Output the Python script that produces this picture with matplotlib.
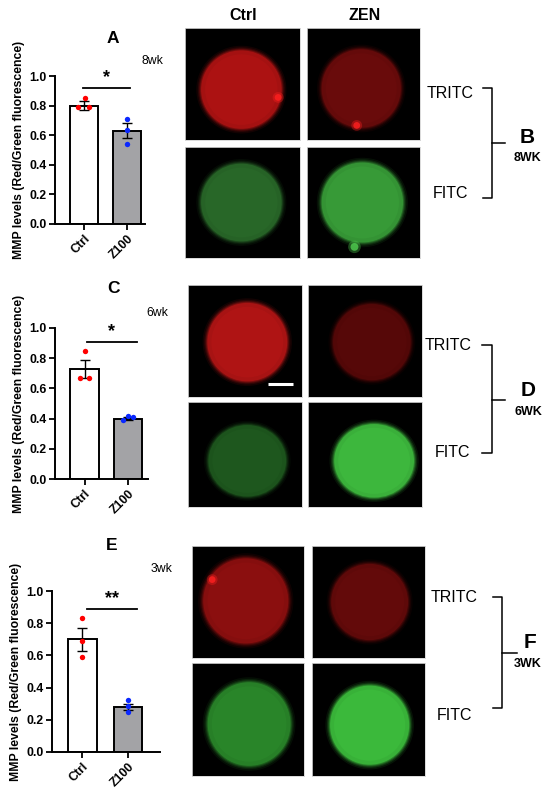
import matplotlib
matplotlib.use("Agg")
import matplotlib.pyplot as plt
from matplotlib.patches import Circle

plt.rcParams['font.family'] = ['Liberation Sans', 'DejaVu Sans']

W, H = 550, 797

# bar chart data (A: 8wk, C: 6wk, E: 3wk)
groups = ["Ctrl", "Z100"]
weeks = ["8wk", "6wk", "3wk"]
panel_letters = ["A", "C", "E"]
means = [[0.80, 0.63], [0.73, 0.40], [0.70, 0.28]]
sems = [[0.03, 0.05], [0.06, 0.01], [0.07, 0.02]]
ctrl_points = [[0.79, 0.85, 0.79], [0.85, 0.67, 0.67], [0.83, 0.69, 0.59]]
z100_points = [[0.71, 0.635, 0.54], [0.39, 0.42, 0.41], [0.32, 0.285, 0.25]]
stars = ["*", "*", "**"]

# micrograph labels / brightness
img_cols = ["Ctrl", "ZEN"]
channels = ["TRITC", "FITC"]
img_letters = ["B", "D", "F"]
img_weeks = ["8WK", "6WK", "3WK"]
red_colors = [["#b41414", "#6e0c0c"], ["#b81616", "#5a0909"], ["#921010", "#680b0b"]]
green_colors = [["#2a6c2a", "#3aa23a"], ["#205c20", "#40c040"], ["#2c8c2c", "#3ec23e"]]

fig = plt.figure(figsize=(W / 100, H / 100), dpi=100)


def px_axes(x0, y0, x1, y1, **kw):
    return fig.add_axes([x0 / W, 1 - y1 / H, (x1 - x0) / W, (y1 - y0) / H], **kw)


# ---- bar charts ----
bar_boxes = [(55, 76, 145, 224), (55, 328, 148, 479), (52, 591, 160, 752)]
bar_xlims = [(-0.67, 1.42), (-0.68, 1.46), (-0.66, 1.7)]
bar_width = [0.65, 0.65, 0.63]
ctrl_jit = [[-0.14, 0.02, 0.12], [0.0, -0.1, 0.1], [0.0, 0.0, 0.0]]
z100_jit = [[0.0, 0.0, 0.0], [-0.12, 0.0, 0.12], [0.0, 0.0, 0.0]]
sig_span = [(-0.02, 1.07), (0.06, 1.2), (0.1, 1.2)]
sig_y = [0.92, 0.91, 0.89]

for i in range(3):
    ax = px_axes(*bar_boxes[i])
    x = [0, 1]
    ax.bar(x, means[i], width=bar_width[i], color=["white", "#a3a3a6"],
           edgecolor="black", linewidth=1.4, zorder=2)
    ax.errorbar(x, means[i], yerr=sems[i], fmt="none", ecolor="black",
                elinewidth=1.0, capsize=3.3, capthick=1.0, zorder=3)
    ax.scatter([0 + j for j in ctrl_jit[i]], ctrl_points[i], s=15, color="#ff0000",
               zorder=4, linewidths=0)
    ax.scatter([1 + j for j in z100_jit[i]], z100_points[i], s=15, color="#0a28ff",
               zorder=4, linewidths=0)
    ax.plot(sig_span[i], [sig_y[i], sig_y[i]], color="black", lw=1.3, clip_on=False)
    ax.text(sum(sig_span[i]) / 2, sig_y[i] + 0.012, stars[i], ha="center", va="bottom",
            fontsize=13, fontweight="bold")
    ax.set_xlim(*bar_xlims[i])
    ax.set_ylim(0, 1.0)
    ax.set_yticks([0, 0.2, 0.4, 0.6, 0.8, 1.0])
    ax.set_yticklabels(["0.0", "0.2", "0.4", "0.6", "0.8", "1.0"], fontsize=8.8,
                       fontweight="bold")
    ax.set_xticks(x)
    ax.set_xticklabels(groups, rotation=45, ha="right", rotation_mode="anchor",
                       fontsize=8.8, fontweight="bold")
    ax.tick_params(width=1.3, length=4, pad=2)
    for s in ["top", "right"]:
        ax.spines[s].set_visible(False)
    for s in ["left", "bottom"]:
        ax.spines[s].set_linewidth(1.4)
    ax.set_ylabel("MMP levels (Red/Green fluorescence)", fontsize=8.8, fontweight="bold",
                  labelpad=3)

# ---- micrographs ----
img_boxes = [
    [[(185, 28, 300, 140), (307, 28, 420, 140)], [(185, 147, 300, 258), (307, 147, 420, 258)]],
    [[(188, 285, 302, 397), (308, 285, 422, 397)], [(188, 402, 302, 507), (308, 402, 422, 507)]],
    [[(192, 546, 304, 658), (312, 546, 425, 658)], [(192, 663, 304, 776), (312, 663, 425, 776)]],
]
cells = [
    [[(0.49, 0.45, 0.35), (0.48, 0.46, 0.35)], [(0.49, 0.50, 0.35), (0.49, 0.50, 0.36)]],
    [[(0.52, 0.49, 0.35), (0.56, 0.49, 0.34)], [(0.52, 0.44, 0.34), (0.58, 0.44, 0.35)]],
    [[(0.48, 0.51, 0.38), (0.51, 0.50, 0.34)], [(0.51, 0.46, 0.37), (0.51, 0.45, 0.35)]],
]
# small bright spots (row, channel, col, x, y, radius)
spots = [(0, 0, 0, 0.81, 0.38, 0.03), (0, 0, 1, 0.44, 0.13, 0.03),
         (0, 1, 1, 0.42, 0.10, 0.035), (2, 0, 0, 0.18, 0.70, 0.03)]

halo = [(1.12, 0.10), (1.08, 0.16), (1.05, 0.25), (1.025, 0.4), (1.0, 0.75), (0.9, 0.5)]
for r in range(3):
    for ch in range(2):
        for c in range(2):
            ax = px_axes(*img_boxes[r][ch][c])
            ax.set_facecolor("black")
            ax.set_xlim(0, 1)
            ax.set_ylim(0, 1)
            ax.set_xticks([])
            ax.set_yticks([])
            for s in ax.spines.values():
                s.set_edgecolor("#d5d5d5")
                s.set_linewidth(0.6)
            cx, cy, rad = cells[r][ch][c]
            col = red_colors[r][c] if ch == 0 else green_colors[r][c]
            for scale, a in halo:
                ax.add_patch(Circle((cx, cy), rad * scale, color=col, alpha=a, lw=0))
            bright = "#ff2020" if ch == 0 else "#50d050"
            for sr, sch, sc, sx, sy, srad in spots:
                if (sr, sch, sc) == (r, ch, c):
                    ax.add_patch(Circle((sx, sy), srad * 1.6, color=bright, alpha=0.35, lw=0))
                    ax.add_patch(Circle((sx, sy), srad, color=bright, alpha=0.8, lw=0))
            if r == 1 and ch == 0 and c == 0:
                ax.plot([0.7, 0.92], [0.12, 0.12], color="white", lw=2.2, solid_capstyle="butt")

# ---- overlay texts ----
ov = fig.add_axes([0, 0, 1, 1])
ov.set_xlim(0, W)
ov.set_ylim(H, 0)
ov.axis("off")
ov.patch.set_visible(False)

ov.text(243, 15, img_cols[0], ha="center", va="center", fontsize=11.5, fontweight="bold")
ov.text(365, 15, img_cols[1], ha="center", va="center", fontsize=11.5, fontweight="bold")

letter_pos = [(113, 38), (113, 288), (112, 545)]
week_pos = [(152, 61), (157, 313), (162, 569)]
for i in range(3):
    ov.text(*letter_pos[i], panel_letters[i], ha="center", va="center", fontsize=12.5,
            fontweight="bold")
    ov.text(*week_pos[i], weeks[i], ha="center", va="center", fontsize=8.8)

# bracket geometry: (vertical x, top, bottom, mid, tick left, tick right)
brackets = [(492, 88, 198, 143, 483, 505), (492, 345, 453, 400, 482, 505),
            (502, 597, 708, 653, 493, 517)]
chan_pos = [[(450, 93), (450, 193)], [(448, 345), (452, 452)], [(454, 597), (455, 715)]]
letter_img_pos = [[(527, 137), (527, 158)], [(528, 390), (528, 412)], [(530, 643), (528, 664)]]
for i in range(3):
    vx, top, bot, mid, tl, tr = brackets[i]
    ov.plot([tl, vx, vx, tl], [top, top, bot, bot], color="black", lw=1.1)
    ov.plot([vx, tr], [mid, mid], color="black", lw=1.1)
    for k in range(2):
        ov.text(*chan_pos[i][k], channels[k], ha="center", va="center", fontsize=11.5)
    ov.text(*letter_img_pos[i][0], img_letters[i], ha="center", va="center", fontsize=15,
            fontweight="bold")
    ov.text(*letter_img_pos[i][1], img_weeks[i], ha="center", va="center", fontsize=9,
            fontweight="bold")

fig.savefig("out.png", dpi=100, facecolor="white")
